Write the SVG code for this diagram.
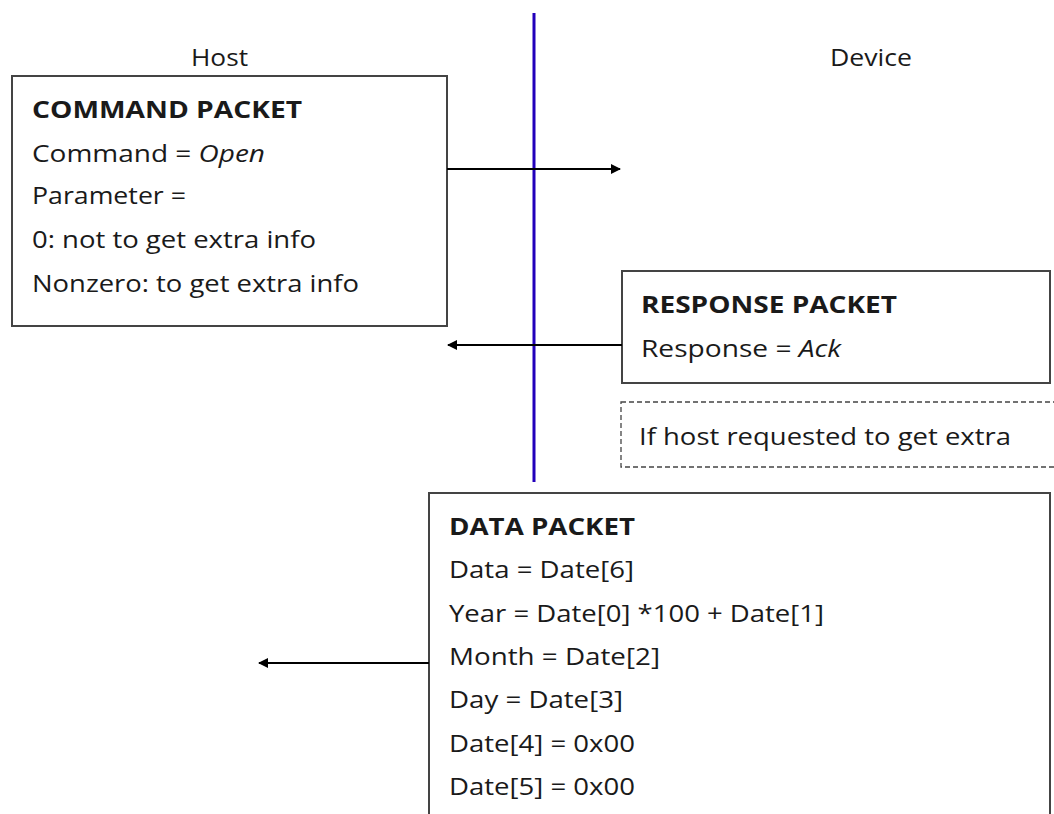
<svg xmlns="http://www.w3.org/2000/svg" width="1054" height="814" viewBox="0 0 1054 814">
<defs>
<marker id="ah" viewBox="0 0 10 10" refX="9" refY="5" markerWidth="5" markerHeight="5" orient="auto-start-reverse" markerUnits="strokeWidth">
<path d="M0,0 L10,5 L0,10 Z" fill="#000"/>
</marker>
<style>
text{font-family:"Open Sans","Noto Sans","Liberation Sans",sans-serif;font-size:24px;fill:#1a1a1a}
.b{font-weight:bold}
.i{font-style:italic}
.box{fill:#fff;stroke:#444;stroke-width:2}
.dash{fill:none;stroke:#444;stroke-width:1.3;stroke-dasharray:5 3}
.conn{stroke:#000;stroke-width:2;fill:none}
.life{stroke:#2200bb;stroke-width:3}
</style>
</defs>
<rect width="1054" height="814" fill="#fff"/>
<text x="191" y="66" textLength="57" lengthAdjust="spacingAndGlyphs">Host</text>
<text x="830" y="66" textLength="82" lengthAdjust="spacingAndGlyphs">Device</text>
<line class="life" x1="534" y1="13" x2="534" y2="482"/>
<g id="command">
<rect class="box" x="12" y="76" width="435" height="250"/>
<text class="b" x="32" y="118" textLength="270" lengthAdjust="spacingAndGlyphs">COMMAND PACKET</text>
<text x="32" y="162" textLength="233" lengthAdjust="spacingAndGlyphs">Command = <tspan class="i">Open</tspan></text>
<text x="32" y="204" textLength="154" lengthAdjust="spacingAndGlyphs">Parameter =</text>
<text x="32" y="248" textLength="284" lengthAdjust="spacingAndGlyphs">0: not to get extra info</text>
<text x="32" y="292" textLength="327" lengthAdjust="spacingAndGlyphs">Nonzero: to get extra info</text>
</g>
<g id="response">
<rect class="box" x="622" y="271" width="428" height="112"/>
<text class="b" x="641" y="313" textLength="256" lengthAdjust="spacingAndGlyphs">RESPONSE PACKET</text>
<text x="641" y="357" textLength="200" lengthAdjust="spacingAndGlyphs">Response = <tspan class="i">Ack</tspan></text>
</g>
<g id="condition">
<rect class="dash" x="621" y="402" width="440" height="65"/>
<text x="639" y="445" textLength="372" lengthAdjust="spacingAndGlyphs">If host requested to get extra</text>
</g>
<g id="data">
<rect class="box" x="429" y="493" width="621" height="340"/>
<text class="b" x="449" y="535" textLength="186" lengthAdjust="spacingAndGlyphs">DATA PACKET</text>
<text x="449" y="578" textLength="185" lengthAdjust="spacingAndGlyphs">Data = Date[6]</text>
<text x="449" y="622" textLength="375" lengthAdjust="spacingAndGlyphs">Year = Date[0] *100 + Date[1]</text>
<text x="449" y="665" textLength="211" lengthAdjust="spacingAndGlyphs">Month = Date[2]</text>
<text x="449" y="708" textLength="174" lengthAdjust="spacingAndGlyphs">Day = Date[3]</text>
<text x="449" y="752" textLength="186" lengthAdjust="spacingAndGlyphs">Date[4] = 0x00</text>
<text x="449" y="795" textLength="186" lengthAdjust="spacingAndGlyphs">Date[5] = 0x00</text>
</g>
<g id="connectors">
<line class="conn" x1="447" y1="169" x2="620" y2="169" marker-end="url(#ah)"/>
<line class="conn" x1="622" y1="345" x2="448" y2="345" marker-end="url(#ah)"/>
<line class="conn" x1="429" y1="663" x2="259" y2="663" marker-end="url(#ah)"/>
</g>
</svg>
